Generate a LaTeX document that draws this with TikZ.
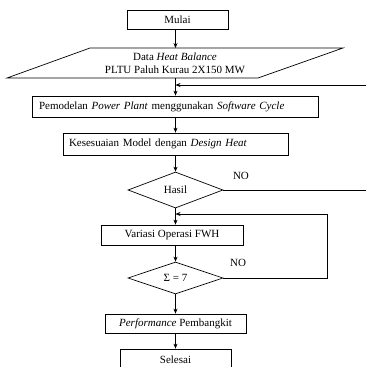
\documentclass[tikz,border=0pt]{standalone}
\usepackage{fontspec}
\setmainfont{Liberation Serif}
\usetikzlibrary{shapes.geometric,arrows.meta}
\begin{document}
\begin{tikzpicture}[x=1pt,y=-1pt,
  every node/.style={font=\fontsize{11}{13}\selectfont},
  box/.style={draw, line width=0.7pt, rectangle, inner sep=0pt},
  dia/.style={draw, line width=0.7pt, diamond, inner sep=0pt},
  ln/.style={line width=0.7pt},
  arr/.style={line width=0.7pt, -{Stealth[length=5pt,width=4pt]}}]
\useasboundingbox (0,0) rectangle (366,367);
% nodes
\node[box, minimum width=101pt, minimum height=19pt] (mulai) at (177.5,19.5) {Mulai};
\coordinate (p1) at (90,48);
\coordinate (p2) at (343,48);
\coordinate (p3) at (258,78);
\coordinate (p4) at (7,78);
\draw[ln] (p1) -- (p2) -- (p3) -- (p4) -- cycle;
\node[align=center, inner sep=0pt] (data) at (175,63.5) {Data \textit{Heat Balance}\\PLTU Paluh Kurau 2X150 MW};
\coordinate (dtop) at (175.5,48);
\coordinate (dbot) at (175.5,78);
\node[box, minimum width=286pt, minimum height=21pt, text width=272pt, align=left, inner xsep=7pt] (model) at (175,106.5) {Pemodelan \textit{Power Plant} menggunakan \textit{Software Cycle}};
\node[box, minimum width=225pt, minimum height=22pt, text width=213pt, align=left, inner xsep=6pt] (sesuai) at (175.5,144) {Kesesuaian Model dengan \textit{Design Heat}};
\node[dia, minimum width=95pt, minimum height=36pt] (hasil) at (175.5,190) {Hasil};
\node[box, minimum width=142pt, minimum height=20pt] (variasi) at (172,235) {Variasi Operasi FWH};
\node[dia, minimum width=95pt, minimum height=32pt] (sigma) at (175.5,278) {Σ = 7};
\node[box, minimum width=141pt, minimum height=19pt] (perf) at (175.5,323.5) {\textit{Performance} Pembangkit};
\node[box, minimum width=111pt, minimum height=21pt] (selesai) at (175.5,359.5) {Selesai};
\node (no1) at (241,176) {NO};
\node (no2) at (238,263) {NO};
\coordinate (fbA) at (366,85);
\coordinate (fbB) at (366,190);
\coordinate (lpA) at (327,278);
\coordinate (lpB) at (327,214);
% connectors
\draw[arr] (mulai.south -| dtop) -- (dtop);
\draw[arr] (dbot) -- (dbot |- model.north);
\draw[arr] (fbA) -- (fbA -| dbot);
\draw[arr] (model.south -| dbot) -- (dbot |- sesuai.north);
\draw[arr] (sesuai.south -| hasil) -- (hasil.north);
\draw[ln] (hasil.east) -- (fbB);
\draw[arr] (hasil.south) -- (hasil.south |- variasi.north);
\draw[arr] (hasil.south |- variasi.south) -- (sigma.north);
\draw[ln] (sigma.east) -- (lpA) -- (lpB);
\draw[arr] (lpB) -- (lpB -| hasil.south);
\draw[arr] (sigma.south) -- (perf.north);
\draw[arr] (perf.south) -- (selesai.north);
\end{tikzpicture}
\end{document}
